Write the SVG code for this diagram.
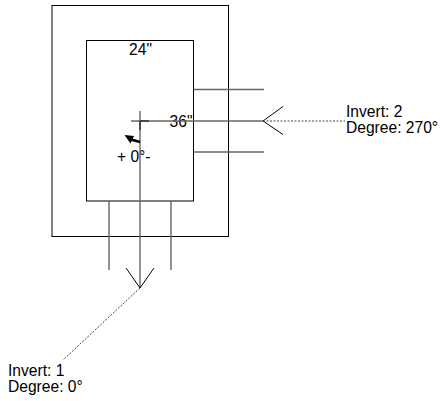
<svg xmlns="http://www.w3.org/2000/svg" width="440" height="401" viewBox="0 0 440 401">
<style>
.box{fill:none;stroke:#000;stroke-width:1}
.pipe{stroke:#666;stroke-width:1.4;fill:none}
.chev{stroke:#000;stroke-width:1;fill:none}
.dot{stroke:#444;stroke-width:1;stroke-dasharray:2 1.5;fill:none}
text{font-family:"Liberation Sans",Arial,sans-serif;font-size:15.6px;fill:#000}
</style>
<rect width="440" height="401" fill="#fff"/>
<g id="outer"><rect class="box" x="52" y="5.5" width="176.5" height="231"/></g>
<g id="inner"><rect class="box" x="86.5" y="40.5" width="107" height="160.5"/>
<text x="140.5" y="55" text-anchor="middle">24"</text>
<text x="192.5" y="127" text-anchor="end">36"</text>
<text x="117" y="161.5">+ 0°-</text>
</g>
<g id="connectors">
<line class="pipe" x1="193.5" y1="89.5" x2="264" y2="89.5"/>
<line class="pipe" x1="193.5" y1="152" x2="264" y2="152"/>
<line class="pipe" x1="131" y1="121" x2="263" y2="121"/>
<line class="pipe" x1="140" y1="111" x2="140" y2="288"/>
<line class="pipe" x1="109" y1="201" x2="109" y2="270"/>
<line class="pipe" x1="171" y1="201" x2="171" y2="270"/>
<path d="M140 121H149M140 121V130" stroke="#333" stroke-width="1.5" fill="none"/>
<polyline class="chev" points="283,106.5 263,121 283,134.5"/>
<polyline class="chev" points="126,268 140,288 154,268"/>
<line class="dot" x1="263" y1="121" x2="345" y2="121"/>
<line class="dot" x1="140" y1="288" x2="63" y2="360"/>
</g>
<g id="rotation">
<path d="M140 142 L131 139.5" stroke="#000" stroke-width="2.4" fill="none"/>
<polygon points="124.5,135 134,136 130.5,143.5" fill="#000"/>
</g>
<g id="label-2"><text x="346" y="117">Invert: 2</text><text x="346" y="133">Degree: 270°</text></g>
<g id="label-1"><text x="8" y="376">Invert: 1</text><text x="8" y="392">Degree: 0°</text></g>
</svg>
